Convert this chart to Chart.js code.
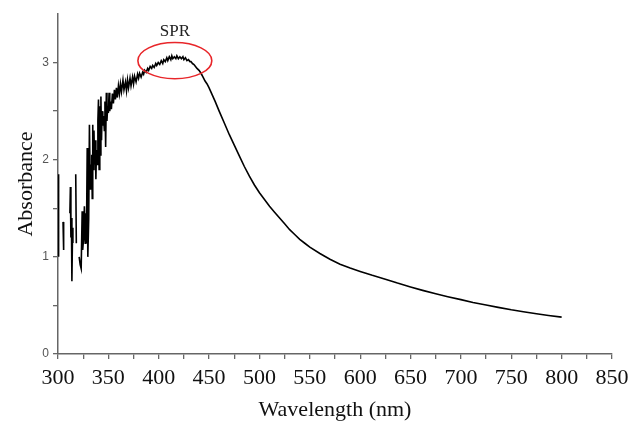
<!DOCTYPE html>
<html>
<head>
<meta charset="utf-8">
<script src="https://cdn.jsdelivr.net/npm/chart.js@4.4.1/dist/chart.umd.min.js"></script>
<style>
html,body{margin:0;padding:0;background:#fff;}
#wrap{width:631px;height:423px;}
</style>
</head>
<body>
<div id="wrap"><canvas id="c" width="631" height="423"></canvas></div>
<script>
// Wavelength (nm) and absorbance (null = gap in the trace)
const wavelengths = [
  300,300.6,302,
  305,305.6,308,
  311.8,312.3,312.8,313.3,313.8,314.3,314.8,316,
  317.6,318.2,319.5,
  321,322,323,324,324.5,325.5,326.2,327,327.6,328.2,329,329.6,330.5,331.2,332,332.6,
  333,333.5,334,334.5,335,335.7,336.3,337,337.6,338.2,339,339.6,340.2,340.8,341.5,342,342.6,343.2,343.8,344.5,
  345.2,346,346.6,347.3,348,348.6,349.3,350,350.7,351.4,352,353,354,355,356,357,358,359,
  360,361,362,363,364.5,365.5,367,368,369,370,371.5,372.5,374,375,376,377.5,379,380,381,382.5,
  384,385,386,387.5,389,390,391.5,393,394,395.5,397,398,399.5,401,402.5,404,405,406.5,408,409,
  410.5,412,413,414,415.5,417,418,419.5,421,422.5,424,425,426.5,428,429.5,431,432,433.5,435,436.5,
  438,440,442,444,446,448,450,453,456,460,465,470,475,480,485,490,495,500,505,510,
  515,520,525,530,535,540,545,550,560,570,580,590,600,612,625,637,650,662,675,687,700,712,725,737,750,762,775,787,800
];
const absorbance = [
  1.85,1.00,null,
  1.36,1.07,null,
  1.45,1.72,1.20,1.40,0.75,1.15,1.30,null,
  1.85,1.14,null,
  1.00,0.92,0.88,1.47,1.07,1.20,1.52,1.14,1.45,1.14,2.12,1.00,1.40,2.36,1.70,1.95,
  1.70,2.05,1.60,2.36,1.90,2.30,1.95,2.20,1.80,2.10,1.95,2.40,2.62,1.90,2.55,2.05,2.65,2.20,2.50,2.35,
  2.45,2.30,2.60,2.13,2.69,2.40,2.55,2.48,2.69,2.50,2.60,2.52,2.68,2.58,2.72,2.62,2.74,2.64,
  2.76,2.68,2.78,2.70,2.82,2.72,2.80,2.71,2.82,2.74,2.84,2.76,2.85,2.78,2.86,2.80,2.88,2.84,2.89,2.85,
  2.90,2.88,2.92,2.90,2.94,2.92,2.96,2.94,2.97,2.95,2.99,2.97,3.00,2.98,3.02,2.99,3.03,3.01,3.05,3.02,
  3.06,3.03,3.07,3.04,3.06,3.04,3.07,3.04,3.06,3.04,3.06,3.03,3.05,3.02,3.03,3.01,3.01,2.99,2.98,2.96,
  2.94,2.92,2.89,2.85,2.81,2.78,2.74,2.67,2.60,2.50,2.38,2.26,2.15,2.04,1.93,1.83,1.74,1.66,1.59,1.52,
  1.46,1.40,1.34,1.28,1.23,1.18,1.14,1.10,1.035,0.975,0.925,0.885,0.85,0.81,0.77,0.73,0.69,0.655,0.62,0.59,0.56,0.53,0.505,0.48,0.455,0.435,0.415,0.397,0.38
];
const xTickLabels = ["300","350","400","450","500","550","600","650","700","750","800","850"];
const yTickLabels = ["0","1","2","3"];
const sprLabel = "SPR";
const sprCenter = [416, 3.02];   // data coords of the highlight ellipse
const sprRadius = [36.7, 0.186]; // nm, absorbance

const serif = "'Liberation Serif','Times New Roman',serif";

const sprPlugin = {
  id: 'spr',
  afterDatasetsDraw(chart) {
    const {ctx, scales:{x, y}} = chart;
    const cx = x.getPixelForValue(sprCenter[0]);
    const cy = y.getPixelForValue(sprCenter[1]);
    const rx = Math.abs(x.getPixelForValue(sprCenter[0] + sprRadius[0]) - cx);
    const ry = Math.abs(y.getPixelForValue(sprCenter[1] + sprRadius[1]) - cy);
    ctx.save();
    ctx.strokeStyle = '#e8262a';
    ctx.lineWidth = 1.6;
    ctx.beginPath();
    ctx.ellipse(cx, cy, rx, ry, 0, 0, Math.PI * 2);
    ctx.stroke();
    ctx.fillStyle = '#222';
    ctx.font = "17px " + serif;
    ctx.textAlign = 'center';
    ctx.textBaseline = 'middle';
    ctx.fillText(sprLabel, cx, y.getPixelForValue(3.32));
    ctx.restore();
  }
};

const points = wavelengths.map((w, i) => ({x: w, y: absorbance[i]}));

new Chart(document.getElementById('c'), {
  type: 'line',
  data: {
    datasets: [{
      data: points,
      borderColor: '#000',
      borderWidth: 1.6,
      pointRadius: 0,
      fill: false,
      spanGaps: false,
      tension: 0
    }]
  },
  options: {
    responsive: false,
    animation: false,
    events: [],
    layout: {padding: {top: 14, right: 19, left: 0, bottom: 0}},
    plugins: {legend: {display: false}, tooltip: {enabled: false}},
    scales: {
      x: {
        type: 'linear',
        min: 300, max: 850,
        afterFit(a) { a.height = 69; a.paddingLeft = 0; a.paddingRight = 0; },
        afterBuildTicks(a) {
          const t = [];
          for (let v = 300; v <= 850; v += 25) t.push({value: v});
          a.ticks = t;
        },
        border: {display: true, color: '#666', width: 1.5},
        grid: {drawOnChartArea: false, drawTicks: true, tickLength: 5, color: '#666', lineWidth: 1.3},
        ticks: {
          autoSkip: false, maxRotation: 0, padding: 6,
          color: '#111',
          font: {family: serif, size: 22},
          callback(v) { const i = xTickLabels.indexOf(String(v)); return i >= 0 ? xTickLabels[i] : ''; }
        },
        title: {display: true, text: 'Wavelength (nm)', color: '#111',
                font: {family: serif, size: 22}, padding: {top: 0, bottom: 0}}
      },
      y: {
        type: 'linear',
        min: 0, max: 3.5,
        afterFit(a) { a.width = 58; a.paddingTop = 0; a.paddingBottom = 0; },
        afterBuildTicks(a) {
          const t = [];
          for (let v = 0; v <= 3.0001; v += 0.5) t.push({value: Math.round(v * 10) / 10});
          a.ticks = t;
        },
        border: {display: true, color: '#666', width: 1.5},
        grid: {drawOnChartArea: false, drawTicks: true, tickLength: 5, color: '#666', lineWidth: 1.3},
        ticks: {
          padding: 4,
          color: '#555',
          font: {family: "'Liberation Sans',Arial,sans-serif", size: 12},
          callback(v) { const i = yTickLabels.indexOf(String(v)); return i >= 0 ? yTickLabels[i] : ''; }
        },
        title: {display: true, text: 'Absorbance', color: '#111',
                font: {family: serif, size: 22}, padding: {top: 13, bottom: 0}}
      }
    }
  },
  plugins: [sprPlugin]
});
</script>
</body>
</html>
